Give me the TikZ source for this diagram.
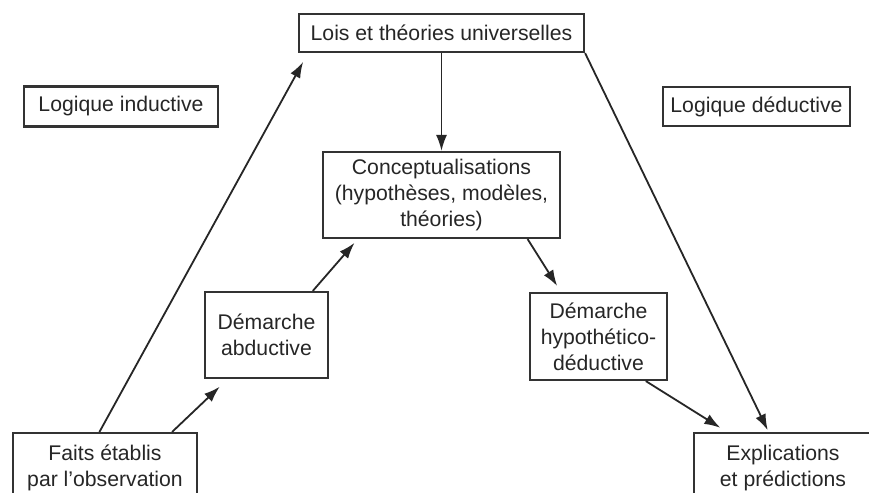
\documentclass[tikz,border=0pt]{standalone}
\usepackage{fontspec}
\setmainfont{Liberation Sans}
\usetikzlibrary{arrows.meta, calc, positioning}

\begin{document}
\begin{tikzpicture}[
    x=0.5pt, y=-0.5pt, % one unit = one pixel of the layout, y pointing down
    >=Latex, % Set default arrow tip style
    box/.style={draw=black!80, line width=1.1pt, align=center, inner sep=0pt,
        text=black!85, font=\fontsize{10.6}{12.9}\selectfont}, % Style for boxes
    flow/.style={->, line width=0.9pt, draw=black!85,
        >={Latex[length=8pt, width=5.5pt]}} % Style for arrows
]

    % --- Frame ---
    \clip (0,0) rectangle (869,493);
    \fill[white] (0,0) rectangle (869,493);

    % --- Boxes ---
    \node[box, minimum width=142.5pt, minimum height=19pt] (lois) at (441.5,33) {Lois et théories universelles};
    \node[box, minimum width=97pt, minimum height=20pt] (inductive) at (121,106.5) {Logique inductive};
    \node[box, minimum width=93.5pt, minimum height=19.5pt] (deductive) at (756.5,106.5) {Logique déductive};
    \node[box, minimum width=118.5pt, minimum height=43pt] (concept) at (441.5,195) {Conceptualisations\\(hypothèses, modèles,\\théories)};
    \node[box, minimum width=61.5pt, minimum height=43pt] (abduct) at (266.5,335) {Démarche\\abductive};
    \node[box, minimum width=68.5pt, minimum height=43.5pt] (hypodeduct) at (598.5,336.5) {Démarche\\hypothético-\\déductive};
    \node[box, anchor=north, minimum width=92pt, inner ysep=6pt] (faits) at (105,432) {Faits établis\\par l'observation};
    \node[box, anchor=north, minimum width=89pt, inner ysep=6pt] (expl) at (783,432) {Explications\\et prédictions};

    % --- Arrows ---
    \draw[flow, shorten >=5pt] ($(faits.north west)!0.47!(faits.north east)$) -- ($(lois.south west)!0.035!(lois.south east)$);
    \draw[flow, shorten >=5.5pt] ($(faits.north west)!0.86!(faits.north east)$) -- ($(abduct.south west)!0.19!(abduct.south east)$);
    \draw[flow, shorten >=2.5pt] ($(abduct.north west)!0.87!(abduct.north east)$) -- ($(concept.south west)!0.15!(concept.south east)$);
    \draw[flow] (lois.south) -- (concept.north);
    \draw[flow, shorten >=3.5pt] ($(concept.south west)!0.86!(concept.south east)$) -- ($(hypodeduct.north west)!0.23!(hypodeduct.north east)$);
    \draw[flow, shorten >=4pt] ($(hypodeduct.south west)!0.84!(hypodeduct.south east)$) -- ($(expl.north west)!0.19!(expl.north east)$);
    \draw[flow, shorten >=1pt] (lois.south east) -- ($(expl.north west)!0.42!(expl.north east)$);

\end{tikzpicture}
\end{document}
